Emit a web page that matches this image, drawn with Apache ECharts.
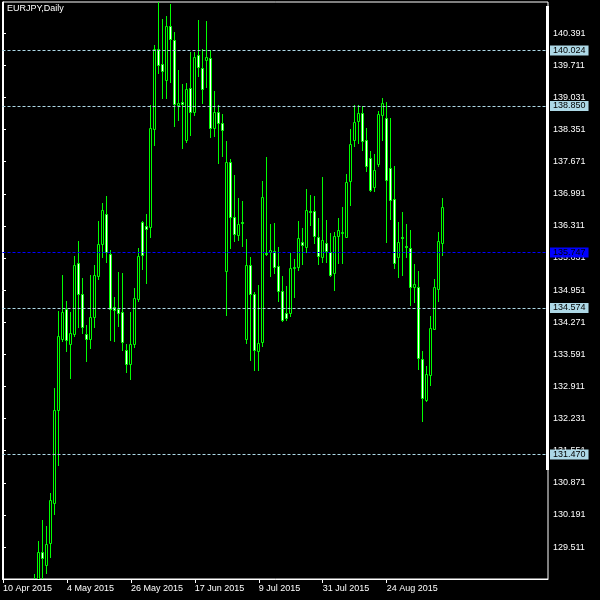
<!DOCTYPE html>
<html><head><meta charset="utf-8">
<script src="https://cdn.jsdelivr.net/npm/echarts@6/dist/echarts.min.js"></script>
<style>html,body{margin:0;padding:0;background:#000;}#c{width:600px;height:600px;}</style>
</head><body><div id="c"></div>
<script>
// Trading days (index 0 = 10 Apr 2015)
const dates = [
 "10 Apr 2015","13 Apr 2015","14 Apr 2015","15 Apr 2015","16 Apr 2015","17 Apr 2015",
 "20 Apr 2015","21 Apr 2015","22 Apr 2015","23 Apr 2015","24 Apr 2015",
 "27 Apr 2015","28 Apr 2015","29 Apr 2015","30 Apr 2015","1 May 2015",
 "4 May 2015","5 May 2015","6 May 2015","7 May 2015","8 May 2015",
 "11 May 2015","12 May 2015","13 May 2015","14 May 2015","15 May 2015",
 "18 May 2015","19 May 2015","20 May 2015","21 May 2015","22 May 2015",
 "25 May 2015","26 May 2015","27 May 2015","28 May 2015","29 May 2015",
 "1 Jun 2015","2 Jun 2015","3 Jun 2015","4 Jun 2015","5 Jun 2015",
 "8 Jun 2015","9 Jun 2015","10 Jun 2015","11 Jun 2015","12 Jun 2015",
 "15 Jun 2015","16 Jun 2015","17 Jun 2015","18 Jun 2015","19 Jun 2015",
 "22 Jun 2015","23 Jun 2015","24 Jun 2015","25 Jun 2015","26 Jun 2015",
 "29 Jun 2015","30 Jun 2015","1 Jul 2015","2 Jul 2015","3 Jul 2015",
 "6 Jul 2015","7 Jul 2015","8 Jul 2015","9 Jul 2015","10 Jul 2015",
 "13 Jul 2015","14 Jul 2015","15 Jul 2015","16 Jul 2015","17 Jul 2015",
 "20 Jul 2015","21 Jul 2015","22 Jul 2015","23 Jul 2015","24 Jul 2015",
 "27 Jul 2015","28 Jul 2015","29 Jul 2015","30 Jul 2015","31 Jul 2015",
 "3 Aug 2015","4 Aug 2015","5 Aug 2015","6 Aug 2015","7 Aug 2015",
 "10 Aug 2015","11 Aug 2015","12 Aug 2015","13 Aug 2015","14 Aug 2015",
 "17 Aug 2015","18 Aug 2015","19 Aug 2015","20 Aug 2015","21 Aug 2015",
 "24 Aug 2015","25 Aug 2015","26 Aug 2015","27 Aug 2015","28 Aug 2015",
 "31 Aug 2015","1 Sep 2015","2 Sep 2015","3 Sep 2015","4 Sep 2015",
 "7 Sep 2015","8 Sep 2015","9 Sep 2015","10 Sep 2015","11 Sep 2015"
];
const N = null;
const opens = [N,N,N,N,N,N,N,N,
 128.40,128.55,129.405,129.122,129.590,130.44,132.41,133.916,134.541,133.804,
 134.023,135.518,134.86,134.023,133.916,134.371,135.242,135.922,136.56,135.71,
 134.59,134.541,134.477,133.676,133.393,133.818,134.765,136.396,136.311,136.296,
 138.366,140.051,139.747,139.399,140.546,140.236,138.88,138.93,138.139,139.237,
 138.727,139.924,139.662,139.824,139.875,138.387,138.727,138.493,135.361,137.665,
 136.509,136.114,136.40,133.925,135.476,134.866,133.661,133.853,135.74,135.75,
 135.786,135.461,134.936,134.456,134.469,135.42,135.433,135.965,135.858,136.63,
 136.624,136.071,135.659,135.943,135.765,135.306,136.106,136.17,136.084,137.252,
 138.124,138.528,138.691,138.139,137.75,137.125,137.622,138.655,138.6,137.537,
 136.878,135.646,136.075,135.885,135.837,135.021,135.021,133.5,132.629,133.16,
 134.137,134.966,135.943];
const closes = [N,N,N,N,N,N,N,N,
 128.75,129.405,129.284,129.568,130.503,132.416,133.988,134.477,133.903,134.052,
 135.476,134.86,134.18,133.91,134.371,135.263,135.922,136.645,135.752,134.541,
 134.54,134.456,133.853,133.393,133.804,134.775,135.674,135.688,136.254,138.387,
 140.051,139.717,139.598,140.533,140.278,138.897,138.91,138.90,139.216,138.727,
 139.896,139.683,139.216,139.896,138.387,138.727,138.493,138.336,137.665,136.496,
 136.135,136.347,136.38,135.476,134.866,133.676,133.84,136.921,135.72,135.79,
 135.446,134.936,134.328,134.35,135.412,135.44,136.05,135.901,136.645,136.62,
 136.099,135.68,136.014,135.786,135.27,136.099,136.226,136.18,137.24,138.054,
 138.515,138.691,138.102,137.571,137.061,137.501,138.67,138.918,137.274,136.849,
 135.518,135.977,136.045,135.855,135.021,135.079,133.521,132.671,133.181,134.158,
 135.021,135.999,136.7];
const lows = [N,N,N,N,N,N,N,N,
 128.30,128.45,128.75,128.965,129.305,130.219,131.254,133.874,133.661,133.088,
 133.98,134.171,134.044,133.449,133.725,134.171,135.178,135.659,135.553,133.889,
 133.874,134.193,133.676,133.215,133.06,133.746,134.717,135.397,135.094,136.084,
 138.017,139.547,139.016,139.016,139.356,138.421,138.549,137.954,138.081,138.23,
 138.655,139.484,138.918,139.25,138.187,138.224,137.643,137.784,134.42,135.85,
 135.999,136.014,135.886,133.831,133.464,133.251,133.251,133.768,135.695,135.255,
 135.319,134.724,134.299,134.313,134.399,134.809,135.376,135.504,135.765,136.332,
 135.943,135.504,135.553,135.553,135.249,134.951,135.531,135.531,136.07,136.757,
 137.996,138.068,137.911,137.465,137.04,137.04,137.571,138.139,135.977,136.466,
 135.412,135.221,135.27,135.659,134.632,134.702,133.287,132.189,132.61,132.932,
 134.13,134.724,135.695];
const highs = [N,N,N,N,N,N,N,N,
 128.94,129.639,130.078,129.958,130.652,132.869,134.505,135.27,134.717,134.486,
 135.674,135.992,135.206,134.207,135.27,135.482,136.417,136.793,136.949,135.801,
 134.796,135.334,135.306,133.804,134.49,134.987,135.844,136.42,136.566,138.861,
 140.136,141.1,140.689,140.746,141.007,140.406,139.605,139.307,139.343,139.994,
 139.994,140.667,140.066,140.65,140.03,139.159,138.876,138.67,138.117,137.728,
 137.395,136.9,136.827,136.035,135.646,134.915,135.057,137.267,137.771,136.354,
 136.375,135.871,135.255,135.036,135.731,135.603,136.417,136.275,137.091,136.97,
 136.934,136.487,137.337,136.439,136.156,136.177,136.481,136.708,137.416,138.366,
 138.861,138.861,138.847,138.387,137.905,137.841,138.734,139.01,138.94,138.6,
 137.586,136.39,136.602,136.354,136.226,135.504,135.355,133.655,133.336,134.399,
 135.178,136.177,136.9];
const priceTicks = [140.391,139.711,139.031,138.351,137.671,136.991,136.311,135.631,
 134.951,134.271,133.591,132.911,132.231,131.551,130.871,130.191,129.511];
const dateTicks = [0,16,32,48,64,80,96];
const levelLines = [140.024,138.850,134.574,131.470];
const currentPrice = 135.747;

const FONT = '"Liberation Sans", Arial, sans-serif';
const LIME = '#00ff00';
const candles = [];
for (let i = 0; i < dates.length; i++) {
  if (opens[i] == null) continue;
  candles.push([i, opens[i], closes[i], lows[i], highs[i]]);
}
const markData = levelLines.map(v => ({
  yAxis: v, lineStyle: {color: '#add8e6'}, label: {backgroundColor: '#add8e6'}
}));
markData.push({yAxis: currentPrice, lineStyle: {color: '#0000ff'}, label: {backgroundColor: '#0000ff'}});

function renderCandle(params, api) {
  const i = api.value(0), o = api.value(1), c = api.value(2), l = api.value(3), h = api.value(4);
  const pO = api.coord([i, o]), pC = api.coord([i, c]);
  const pL = api.coord([i, l]), pH = api.coord([i, h]);
  const k = Math.round(pO[0] - 0.5);           // pixel column of the candle centre
  let top = Math.round(Math.min(pO[1], pC[1]));
  let bot = Math.round(Math.max(pO[1], pC[1]));
  if (bot - top < 1) bot = top + 1;
  const hi = Math.round(pH[1]), lo = Math.round(pL[1]);
  const bear = c < o;
  return {
    type: 'group',
    children: [
      {type: 'line', shape: {x1: k + 0.5, y1: hi, x2: k + 0.5, y2: lo + 1},
       style: {stroke: LIME, lineWidth: 1}},
      {type: 'rect', shape: {x: k - 0.5, y: top + 0.5, width: 2, height: bot - top},
       style: {fill: bear ? '#fff' : '#000', stroke: LIME, lineWidth: 1}}
    ]
  };
}

const chart = echarts.init(document.getElementById('c'), null, {renderer: 'canvas'});
chart.setOption({
  backgroundColor: '#000',
  animation: false,
  grid: {left: 2, top: 2, width: 546, height: 577, show: true,
         borderColor: '#fff', borderWidth: 1, backgroundColor: '#000'},
  xAxis: {
    type: 'value', min: -0.125, max: 136.375, position: 'bottom',
    splitLine: {show: false},
    axisLine: {show: true, lineStyle: {color: '#fff', width: 1}},
    axisTick: {show: true, customValues: dateTicks, length: 4, lineStyle: {color: '#fff'}},
    axisLabel: {customValues: dateTicks, formatter: v => dates[Math.round(v)] || '',
      align: 'left', color: '#fff', fontSize: 9, fontFamily: FONT, margin: 5}
  },
  yAxis: {
    type: 'value', position: 'right', min: 128.834, max: 141.051, scale: true,
    splitLine: {show: false},
    axisLine: {show: true, lineStyle: {color: '#fff', width: 1}},
    axisTick: {show: true, customValues: priceTicks, length: 3, lineStyle: {color: '#fff'}},
    axisLabel: {customValues: priceTicks, formatter: v => Number(v).toFixed(3),
      color: '#fff', fontSize: 9, fontFamily: FONT, margin: 5}
  },
  graphic: [
    {type: 'rect', left: 546, top: 6, shape: {width: 3, height: 464},
     style: {fill: '#fff'}, z: 10},
    {type: 'text', left: 7, top: 4,
     style: {text: 'EURJPY,Daily', fill: '#fff', font: '9px ' + FONT}, z: 10}
  ],
  series: [{
    type: 'custom',
    data: candles,
    encode: {x: 0, y: [1, 2, 3, 4]},
    clip: true,
    renderItem: renderCandle
  }, {
    type: 'line',
    data: [],
    markLine: {
      silent: true, symbol: 'none', animation: false, precision: 3,
      lineStyle: {type: [3, 2], width: 1},
      label: {position: 'end', distance: 2, formatter: p => Number(p.value).toFixed(3),
        color: '#000', fontSize: 9, fontFamily: FONT, padding: [1, 3, 0, 3], lineHeight: 9},
      data: markData
    }
  }]
});
</script></body></html>
